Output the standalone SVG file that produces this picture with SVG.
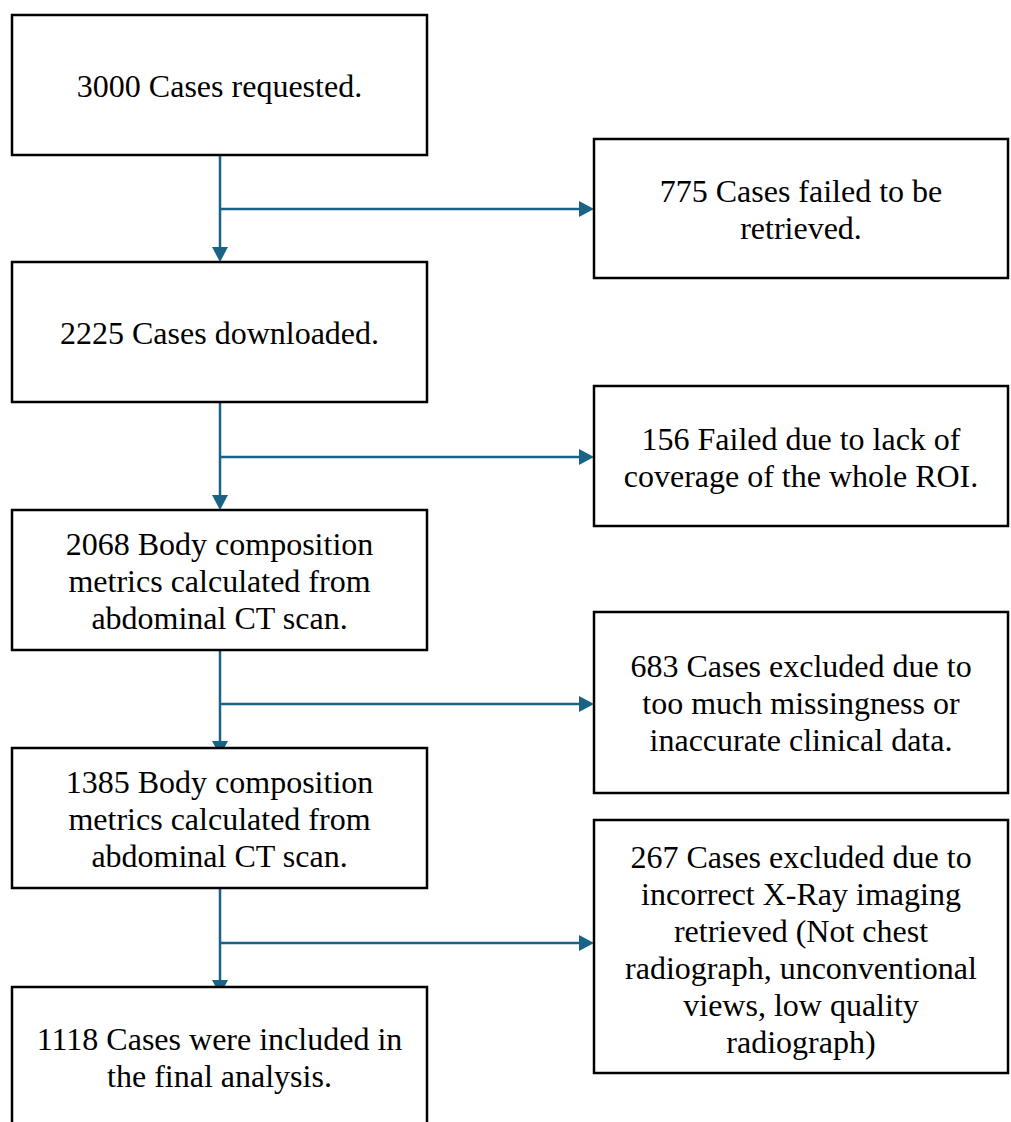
<svg xmlns="http://www.w3.org/2000/svg" width="1011" height="1122" viewBox="0 0 1011 1122">
<style>
.box{fill:#ffffff;stroke:#000000;stroke-width:2.5}
.t{font-family:"Liberation Serif","Times New Roman",serif;font-size:32px;fill:#000000;text-anchor:middle}
.c{stroke:#1b6386;stroke-width:2.5;fill:none;marker-end:url(#ah)}
</style>
<defs>
<marker id="ah" markerUnits="userSpaceOnUse" markerWidth="16" markerHeight="16" refX="0" refY="8" orient="auto" viewBox="0 0 15 16">
<path d="M0,0 L15,8 L0,16 z" fill="#1b6386"/>
</marker>
</defs>
<rect width="1011" height="1122" fill="#ffffff"/>
<g id="connectors">
<line class="c" x1="220" y1="155" x2="220" y2="247"/>
<line class="c" x1="220" y1="209" x2="579" y2="209"/>
<line class="c" x1="220" y1="402" x2="220" y2="495"/>
<line class="c" x1="220" y1="457" x2="579" y2="457"/>
<line class="c" x1="220" y1="650" x2="220" y2="741"/>
<line class="c" x1="220" y1="704" x2="579" y2="704"/>
<line class="c" x1="220" y1="888" x2="220" y2="980"/>
<line class="c" x1="220" y1="943" x2="579" y2="943"/>
</g>
<g id="n1">
<rect class="box" x="12" y="15" width="415" height="140"/>
<text class="t" x="219.5" y="97">3000 Cases requested.</text>
</g>
<g id="r1">
<rect class="box" x="594" y="139" width="414" height="139"/>
<text class="t" x="801" y="202">775 Cases failed to be</text>
<text class="t" x="801" y="239">retrieved.</text>
</g>
<g id="n2">
<rect class="box" x="12" y="262" width="415" height="140"/>
<text class="t" x="219.5" y="344">2225 Cases downloaded.</text>
</g>
<g id="r2">
<rect class="box" x="594" y="386" width="414" height="140"/>
<text class="t" x="801" y="450">156 Failed due to lack of</text>
<text class="t" x="801" y="487">coverage of the whole ROI.</text>
</g>
<g id="n3">
<rect class="box" x="12" y="510" width="415" height="140"/>
<text class="t" x="219.5" y="555">2068 Body composition</text>
<text class="t" x="219.5" y="592">metrics calculated from</text>
<text class="t" x="219.5" y="629">abdominal CT scan.</text>
</g>
<g id="r3">
<rect class="box" x="594" y="612" width="414" height="181"/>
<text class="t" x="801" y="677">683 Cases excluded due to</text>
<text class="t" x="801" y="714">too much missingness or</text>
<text class="t" x="801" y="751">inaccurate clinical data.</text>
</g>
<g id="n4">
<rect class="box" x="12" y="748" width="415" height="140"/>
<text class="t" x="219.5" y="793">1385 Body composition</text>
<text class="t" x="219.5" y="830">metrics calculated from</text>
<text class="t" x="219.5" y="867">abdominal CT scan.</text>
</g>
<g id="r4">
<rect class="box" x="594" y="820" width="414" height="253"/>
<text class="t" x="801" y="868">267 Cases excluded due to</text>
<text class="t" x="801" y="905">incorrect X-Ray imaging</text>
<text class="t" x="801" y="942">retrieved (Not chest</text>
<text class="t" x="801" y="979">radiograph, unconventional</text>
<text class="t" x="801" y="1016">views, low quality</text>
<text class="t" x="801" y="1053">radiograph)</text>
</g>
<g id="n5">
<rect class="box" x="12" y="987" width="415" height="140"/>
<text class="t" x="219.5" y="1050">1118 Cases were included in</text>
<text class="t" x="219.5" y="1087">the final analysis.</text>
</g>
</svg>
